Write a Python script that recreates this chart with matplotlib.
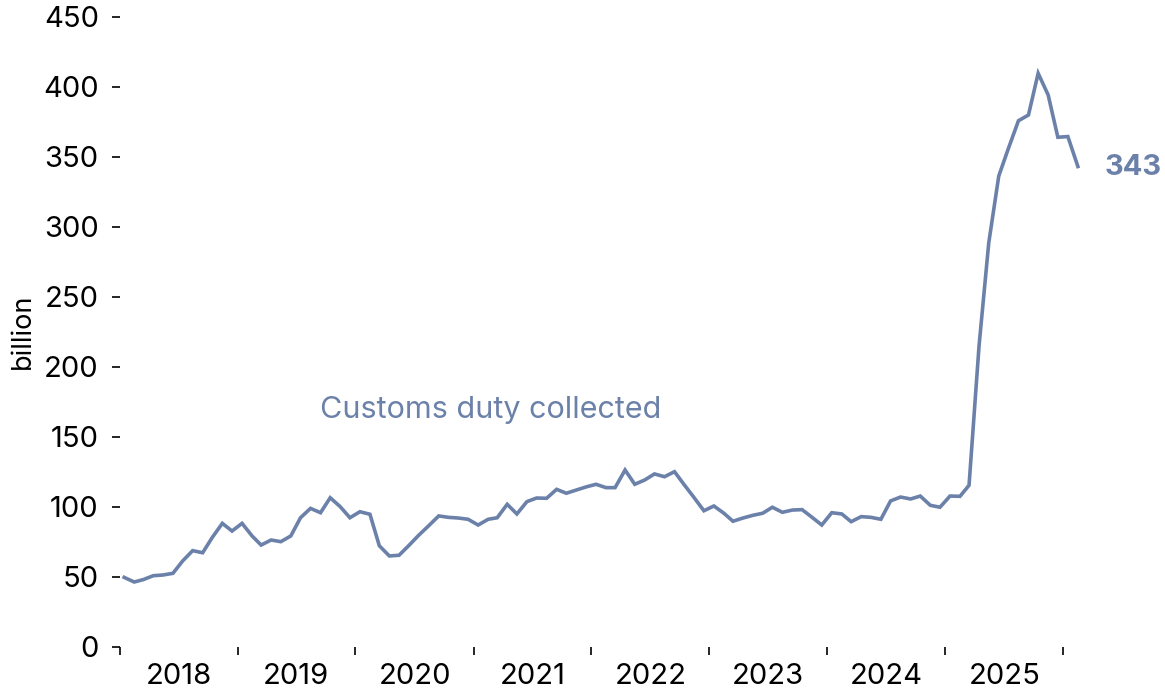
import pandas as pd
import numpy as np
import matplotlib
matplotlib.use('Agg')
import matplotlib.pyplot as plt
import matplotlib.dates as mdates

# monthly customs duty, billions (annualized), Jan 2018 - Feb 2026
start_month = '2018-01-01'
duty = [49.5, 46.2, 47.9, 50.7, 51.2, 52.4, 61.2, 68.6, 67.1, 78.1, 88.1, 82.6,
        88.1, 79.1, 72.6, 76.2, 75.0, 79.1, 92.1, 98.8, 95.7, 106.4, 100.0, 92.1,
        96.4, 94.6, 72.1, 64.8, 65.3, 72.4, 79.6, 86.4, 93.4, 92.4, 91.9, 91.0,
        86.9, 91.0, 92.1, 101.7, 94.8, 103.6, 106.2, 106.0, 112.4, 109.6, 111.9, 114.1,
        116.0, 113.6, 113.6, 126.2, 116.0, 119.1, 123.4, 121.4, 125.0, 115.7, 106.4, 97.1,
        100.5, 95.3, 89.6, 91.9, 93.8, 95.3, 99.6, 96.0, 97.6, 97.9, 92.4, 86.9,
        95.7, 94.8, 89.3, 92.9, 92.4, 91.0, 104.1, 106.9, 105.5, 107.6, 101.0, 99.6,
        107.6, 107.4, 115.3, 215.0, 288.4, 336.2, 356.0, 375.7, 379.8, 409.6, 394.1, 363.9,
        364.4, 343.0]
years = list(range(2018, 2026))
y_ticks = list(range(0, 451, 50))
series_label = 'Customs duty collected'
last_label = '343'

color = '#6b81a9'
plt.rcParams['font.family'] = ['Inter', 'DejaVu Sans']

# points sit in the middle of each month
dates = pd.date_range(start_month, periods=len(duty), freq='MS') + pd.Timedelta(days=14)

fig = plt.figure(figsize=[11.65, 6.97], dpi=100)
ax = fig.add_axes([0.1027, 0.0722, 0.8264, 0.9038])

ax.plot(dates, duty, color=color, linewidth=2.6, solid_joinstyle='miter')

ax.set_ylim(0, 450)
ax.set_xlim(pd.Timestamp('2018-01-01'), pd.Timestamp('2026-03-01'))
ax.set_yticks(y_ticks)
ax.set_yticklabels([str(v) for v in y_ticks])

# year boundaries as ticks, year names centred between them
ax.set_xticks([pd.Timestamp(str(y)) for y in years + [2026]])
ax.set_xticklabels([])
ax.set_xticks([pd.Timestamp(str(y) + '-07-02') for y in years], minor=True)
ax.set_xticklabels([str(y) for y in years], minor=True)

ax.tick_params(axis='both', which='major', length=6, width=1.2, color='black')
ax.tick_params(axis='y', labelsize=21, pad=9)
ax.tick_params(axis='x', which='minor', length=0, labelsize=21, pad=12)

for side in ['top', 'right', 'bottom', 'left']:
    ax.spines[side].set_visible(False)

ax.set_ylabel('billion', fontsize=19.5, labelpad=5)

ax.text(pd.Timestamp('2019-09-14'), 169, series_label, color=color,
        fontsize=22, va='center', ha='left')

ax.annotate(last_label, xy=(dates[-1], duty[-1]), xytext=(19, -1),
            textcoords='offset points', color=color, fontsize=21,
            fontweight='bold', va='center', ha='left', annotation_clip=False)

fig.savefig('out.png', dpi=100)
